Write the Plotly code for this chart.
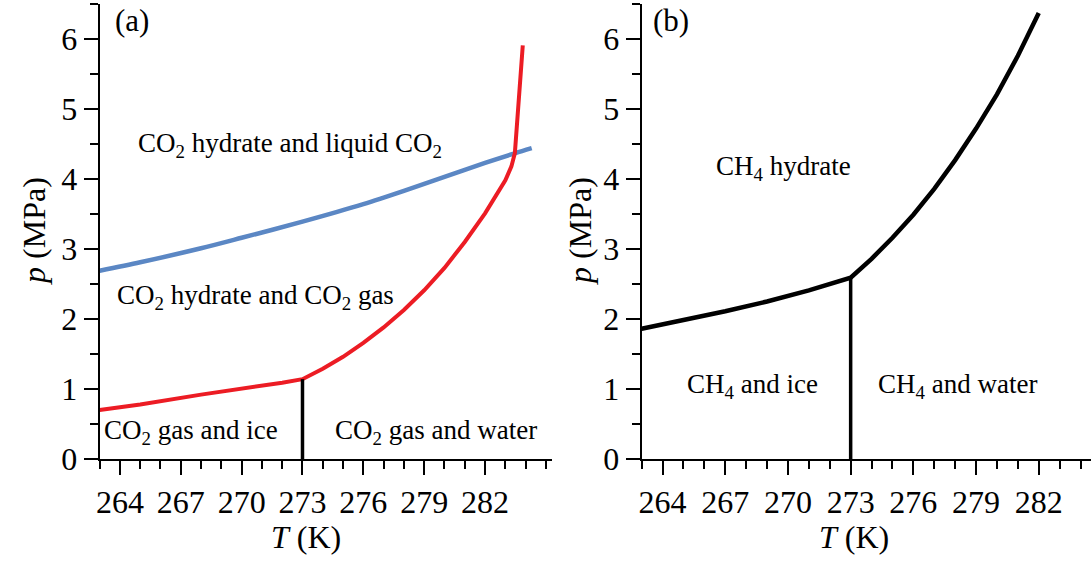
import plotly.graph_objects as go

# ---------------- data ----------------
# Panel (a): CO2
co2_hyd_T = [263, 265, 268, 270, 272, 273, 274, 275, 276, 277, 278, 279, 280, 281, 282, 283, 283.3, 283.47, 283.6, 283.74, 283.86]
co2_hyd_p = [0.70, 0.78, 0.92, 1.00, 1.09, 1.14, 1.29, 1.46, 1.66, 1.88, 2.13, 2.41, 2.73, 3.10, 3.51, 3.98, 4.18, 4.37, 4.90, 5.56, 5.91]
co2_liq_T = [263, 265, 268, 270, 273, 276, 278, 280, 282, 283.5, 284.3]
co2_liq_p = [2.69, 2.81, 3.01, 3.16, 3.39, 3.64, 3.83, 4.03, 4.23, 4.37, 4.44]
ice_line_a_T = [273, 273]
ice_line_a_p = [0, 1.14]

# Panel (b): CH4
ch4_T = [263, 265, 267, 269, 271, 273, 273.5, 274, 275, 276, 277, 278, 279, 280, 281, 282]
ch4_p = [1.86, 1.98, 2.11, 2.25, 2.41, 2.59, 2.72, 2.86, 3.16, 3.49, 3.86, 4.27, 4.72, 5.21, 5.76, 6.37]
ice_line_b_T = [273, 273]
ice_line_b_p = [0, 2.59]

x_tickvals = [264, 267, 270, 273, 276, 279, 282]
y_tickvals = [0, 1, 2, 3, 4, 5, 6]

FONT = "Liberation Serif"
W, H = 1091, 563
MT, MB = 4, 104
PH = H - MT - MB

fig = go.Figure()

# panel a
fig.add_trace(go.Scatter(x=co2_liq_T, y=co2_liq_p, mode="lines", line=dict(color="#5b87c4", width=4.5, shape="spline", smoothing=0.8),
                         xaxis="x", yaxis="y", showlegend=False))
fig.add_trace(go.Scatter(x=co2_hyd_T, y=co2_hyd_p, mode="lines", line=dict(color="#ec1c24", width=4),
                         xaxis="x", yaxis="y", showlegend=False))
fig.add_trace(go.Scatter(x=ice_line_a_T, y=ice_line_a_p, mode="lines", line=dict(color="black", width=3.5),
                         xaxis="x", yaxis="y", showlegend=False))
# panel b
fig.add_trace(go.Scatter(x=ch4_T, y=ch4_p, mode="lines", line=dict(color="black", width=4.5),
                         xaxis="x2", yaxis="y2", showlegend=False))
fig.add_trace(go.Scatter(x=ice_line_b_T, y=ice_line_b_p, mode="lines", line=dict(color="black", width=3.5),
                         xaxis="x2", yaxis="y2", showlegend=False))

def xaxis_cfg(domain, rng, anchor):
    return dict(domain=domain, range=rng, anchor=anchor, showgrid=False, zeroline=False,
                showline=True, linecolor="black", linewidth=2,
                tickmode="array", tickvals=x_tickvals, ticks="outside", ticklen=14, tickwidth=2,
                tickcolor="black", tickfont=dict(family=FONT, size=32, color="black"),
                minor=dict(ticks="outside", ticklen=8, tickwidth=2, tickcolor="black", dtick=1, tick0=263),
                fixedrange=True)

def yaxis_cfg(anchor):
    return dict(domain=[0, 1], range=[0, 6.5], anchor=anchor, showgrid=False, zeroline=False,
                showline=True, linecolor="black", linewidth=2,
                tickmode="array", tickvals=y_tickvals, ticks="outside", ticklen=14, tickwidth=2,
                tickcolor="black", tickfont=dict(family=FONT, size=32, color="black"),
                minor=dict(ticks="outside", ticklen=8, tickwidth=2, tickcolor="black", dtick=0.5, tick0=0),
                fixedrange=True)

def px_x(v):
    return v / W

def px_y(v):
    return (H - MB - v) / PH

anns = []
def ann(text, x, y, xref, yref, size=27, angle=0):
    anns.append(dict(text=text, x=x, y=y, xref=xref, yref=yref, showarrow=False,
                     font=dict(family=FONT, size=size, color="black"), textangle=angle,
                     xanchor="center", yanchor="middle"))

# in-plot labels
ann("CO<sub>2</sub> hydrate and liquid CO<sub>2</sub>", 272.4, 4.49, "x", "y")
ann("CO<sub>2</sub> hydrate and CO<sub>2</sub> gas", 270.7, 2.31, "x", "y")
ann("CO<sub>2</sub> gas and ice", 267.5, 0.39, "x", "y")
ann("CO<sub>2</sub> gas and water", 279.6, 0.39, "x", "y")
ann("(a)", 264.6, 6.27, "x", "y", size=31)
ann("CH<sub>4</sub> hydrate", 269.8, 4.16, "x2", "y2")
ann("CH<sub>4</sub> and ice", 268.3, 1.04, "x2", "y2")
ann("CH<sub>4</sub> and water", 278.1, 1.04, "x2", "y2")
ann("(b)", 264.4, 6.27, "x2", "y2", size=31)

# axis titles
ann("<i>T</i> (K)", px_x(303), px_y(537), "paper", "paper", size=32)
ann("<i>T</i> (K)", px_x(853), px_y(537), "paper", "paper", size=32)
ann("<i>p</i> (MPa)", px_x(30), px_y(231), "paper", "paper", size=32, angle=-90)
ann("<i>p</i> (MPa)", px_x(578), px_y(231), "paper", "paper", size=32, angle=-90)

fig.update_layout(
    width=W, height=H,
    margin=dict(l=0, r=0, t=MT, b=MB),
    paper_bgcolor="white", plot_bgcolor="white",
    xaxis=xaxis_cfg([96 / W, 550 / W], [263, 285.3], "y"),
    yaxis=yaxis_cfg("x"),
    xaxis2=xaxis_cfg([640 / W, 1.0], [263, 284.5], "y2"),
    yaxis2=yaxis_cfg("x2"),
    annotations=anns,
    showlegend=False,
)

fig.write_html("out.html")
